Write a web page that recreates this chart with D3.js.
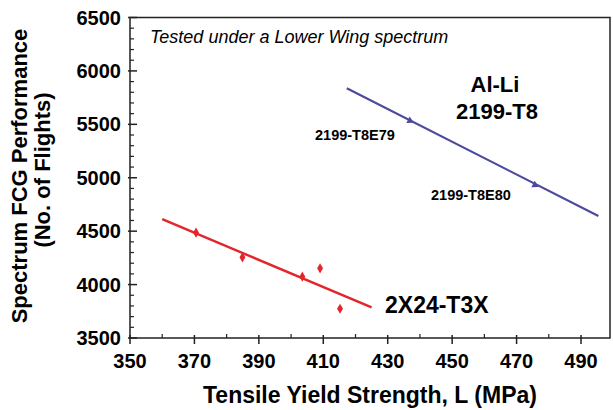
<!DOCTYPE html>
<html lang="en">
<head>
<meta charset="utf-8" />
<title>Spectrum FCG vs TYS</title>
<script src="https://cdn.jsdelivr.net/npm/d3@7"></script>
<style>
  body { margin:0; background:#fff; }
  text { font-family: "Liberation Sans", Arial, sans-serif; }
</style>
</head>
<body>
<script>
// data
var redPoints = [[370.5, 4486], [384.9, 4255], [403.5, 4074], [409, 4152], [415.2, 3774]];
var redFit = [[360, 4612], [425, 3787]];
var bluePoints = [[436.9, 5534], [475.7, 4932]];
var blueFit = [[417.3, 5837], [495.4, 4642]];
var xTicks = [350, 370, 390, 410, 430, 450, 470, 490];
var yTicks = [3500, 4000, 4500, 5000, 5500, 6000, 6500];

var W = 613, H = 410;
var L = 130, R = 610, T = 17.5, B = 338;

var svg = d3.select('body').append('svg')
  .attr('width', W).attr('height', H);

var x = d3.scaleLinear().domain([350, 499]).range([L, R]);
var y = d3.scaleLinear().domain([3500, 6500]).range([B, T]);

// frame
svg.append('rect')
  .attr('x', L).attr('y', T).attr('width', R - L).attr('height', B - T)
  .attr('fill', 'none').attr('stroke', '#222').attr('stroke-width', 1.5);

// minor ticks
var xMinor = d3.range(360, 499, 20);
svg.selectAll('.xminor').data(xMinor).enter().append('line')
  .attr('x1', d => x(d)).attr('x2', d => x(d))
  .attr('y1', B).attr('y2', B - 4)
  .attr('stroke', '#222').attr('stroke-width', 1.2);
var yMinor = d3.range(3600, 6500, 100).filter(d => d % 500 !== 0);
svg.selectAll('.yminor').data(yMinor).enter().append('line')
  .attr('x1', L).attr('x2', L + 4)
  .attr('y1', d => y(d)).attr('y2', d => y(d))
  .attr('stroke', '#222').attr('stroke-width', 1.2);

// major ticks
svg.selectAll('.xmajor').data(xTicks).enter().append('line')
  .attr('x1', d => x(d)).attr('x2', d => x(d))
  .attr('y1', B - 3).attr('y2', B + 6)
  .attr('stroke', '#222').attr('stroke-width', 1.5);
svg.selectAll('.ymajor').data(yTicks).enter().append('line')
  .attr('x1', L - 2).attr('x2', L + 7)
  .attr('y1', d => y(d)).attr('y2', d => y(d))
  .attr('stroke', '#222').attr('stroke-width', 1.5);

// tick labels
svg.selectAll('.xlab').data(xTicks).enter().append('text')
  .attr('x', d => x(d)).attr('y', 368)
  .attr('text-anchor', 'middle')
  .style('font-size', '20px').style('font-weight', 'bold')
  .text(d => d);
svg.selectAll('.ylab').data(yTicks).enter().append('text')
  .attr('x', 121).attr('y', d => y(d) + 7)
  .attr('text-anchor', 'end')
  .style('font-size', '20px').style('font-weight', 'bold')
  .text(d => d);

// axis titles
svg.append('text')
  .attr('x', 370).attr('y', 403)
  .attr('text-anchor', 'middle')
  .style('font-size', '23px').style('font-weight', 'bold')
  .text('Tensile Yield Strength, L (MPa)');
var yt = svg.append('text')
  .attr('transform', 'translate(27,176) rotate(-90)')
  .attr('text-anchor', 'middle')
  .style('font-size', '22px').style('font-weight', 'bold');
yt.append('tspan').attr('x', 0).attr('y', 0).text('Spectrum FCG Performance');
yt.append('tspan').attr('x', 6).attr('y', 23).text('(No. of Flights)');

// fit lines
var line = d3.line().x(d => x(d[0])).y(d => y(d[1]));
svg.append('path').datum(redFit).attr('d', line)
  .attr('fill', 'none').attr('stroke', '#e2262b').attr('stroke-width', 2.4);
svg.append('path').datum(blueFit).attr('d', line)
  .attr('fill', 'none').attr('stroke', '#4b4a9c').attr('stroke-width', 2.2);

// markers
svg.selectAll('.rp').data(redPoints).enter().append('path')
  .attr('d', d3.symbol().type(d3.symbolDiamond).size(30))
  .attr('transform', d => 'translate(' + x(d[0]) + ',' + y(d[1]) + ')')
  .attr('fill', '#e2262b');
var ang = Math.atan2(y(blueFit[1][1]) - y(blueFit[0][1]), x(blueFit[1][0]) - x(blueFit[0][0])) * 180 / Math.PI;
svg.selectAll('.bp').data(bluePoints).enter().append('path')
  .attr('d', d3.symbol().type(d3.symbolTriangle).size(24))
  .attr('transform', d => 'translate(' + x(d[0]) + ',' + y(d[1]) + ') rotate(' + (ang + 90) + ')')
  .attr('fill', '#4b4a9c');

// annotations
svg.append('text').attr('x', 150).attr('y', 43)
  .style('font-size', '18px').style('font-style', 'italic')
  .text('Tested under a Lower Wing spectrum');
svg.append('text').attr('x', 495).attr('y', 92)
  .attr('text-anchor', 'middle')
  .style('font-size', '22px').style('font-weight', 'bold')
  .text('Al-Li');
svg.append('text').attr('x', 497).attr('y', 119)
  .attr('text-anchor', 'middle')
  .style('font-size', '22px').style('font-weight', 'bold')
  .text('2199-T8');
svg.append('text').attr('x', 315).attr('y', 140)
  .style('font-size', '14.5px').style('font-weight', 'bold')
  .text('2199-T8E79');
svg.append('text').attr('x', 431).attr('y', 200)
  .style('font-size', '14.5px').style('font-weight', 'bold')
  .text('2199-T8E80');
svg.append('text').attr('x', 385).attr('y', 313)
  .style('font-size', '23px').style('font-weight', 'bold')
  .text('2X24-T3X');
</script>
</body>
</html>
